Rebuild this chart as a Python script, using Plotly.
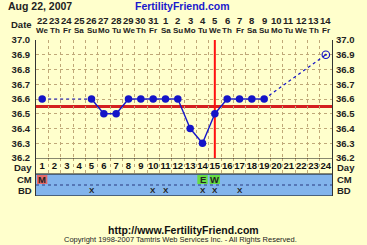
import plotly.graph_objects as go

# ---------------- data ----------------
days = list(range(1, 25))
dates = ["22", "23", "24", "25", "26", "27", "28", "29", "30", "31", "1", "2",
         "3", "4", "5", "6", "7", "8", "9", "10", "11", "12", "13", "14"]
weekdays = ["We", "Th", "Fr", "Sa", "Su", "Mo", "Tu", "We", "Th", "Fr", "Sa", "Su",
            "Mo", "Tu", "We", "Th", "Fr", "Sa", "Su", "Mo", "Tu", "We", "Th", "Fr"]
temps = [36.6, None, None, None, 36.6, 36.5, 36.5, 36.6, 36.6, 36.6, 36.6, 36.6,
         36.4, 36.3, 36.5, 36.6, 36.6, 36.6, 36.6, None, None, None, None, None]
predicted_day = [24]
predicted_temp = [36.9]
coverline = 36.55
ovulation_day = 15
cm_days = [1, 14, 15]
cm_labels = ["M", "E", "W"]
cm_colors = ["#E46A6A", "#66DD44", "#66DD44"]
bd_days = [5, 10, 11, 14, 15, 17]
y_ticks = [36.2, 36.3, 36.4, 36.5, 36.6, 36.7, 36.8, 36.9, 37.0]

# ---------------- layout helpers ----------------
W, H = 367, 245
L, R, T, B = 33, 30, 40, 49
plot_h = H - T - B
plot_w = W - L - R
temp_bottom_px = 158
split = (H - B - temp_bottom_px) / plot_h


def py(px):
    return (H - B - px) / plot_h


def pxp(px):
    return (px - L) / plot_w


BG = "#FFFFCC"
GRID = "#BFA878"
BLUE = "#1414C8"
FONT = "Liberation Sans"

fig = go.Figure()

# line segments: solid between consecutive days, dashed across gaps
rec = [(d, t) for d, t in zip(days, temps) if t is not None]
sx, sy, dx, dy = [], [], [], []
for (d0, t0), (d1, t1) in zip(rec[:-1], rec[1:]):
    if d1 - d0 == 1:
        sx += [d0, d1, None]; sy += [t0, t1, None]
    else:
        dx += [d0, d1, None]; dy += [t0, t1, None]
last_d, last_t = rec[-1]
dx += [last_d, predicted_day[0], None]; dy += [last_t, predicted_temp[0], None]

fig.add_trace(go.Scatter(x=dx, y=dy, mode="lines", line=dict(color=BLUE, width=1.2, dash="3px,3px"),
                         hoverinfo="skip", showlegend=False))
fig.add_trace(go.Scatter(x=sx, y=sy, mode="lines", line=dict(color=BLUE, width=1.4),
                         hoverinfo="skip", showlegend=False))
fig.add_trace(go.Scatter(x=[d for d, _ in rec], y=[t for _, t in rec], mode="markers",
                         marker=dict(color=BLUE, size=7.5), showlegend=False))
fig.add_trace(go.Scatter(x=predicted_day, y=predicted_temp, mode="markers",
                         marker=dict(color=BLUE, size=7.5, symbol="circle-open-dot", line=dict(width=1.2)),
                         showlegend=False))
# invisible trace for right axis
fig.add_trace(go.Scatter(x=[1], y=[36.2], yaxis="y3", mode="markers", marker=dict(opacity=0),
                         hoverinfo="skip", showlegend=False))

# Day numbers row (y2 in pixel offsets below temp area)
fig.add_trace(go.Scatter(x=days, y=[9] * len(days), yaxis="y2", mode="text",
                         text=[str(d) for d in days],
                         textfont=dict(family=FONT, size=9.5, color="#111111", weight="bold"),
                         hoverinfo="skip", showlegend=False))

shapes = []
# blue rows
shapes.append(dict(type="rect", xref="x", yref="y2", x0=0.5, x1=24.5, y0=16, y1=38,
                   fillcolor="#82B4EC", line=dict(width=0), layer="above"))
for d, c in zip(cm_days, cm_colors):
    shapes.append(dict(type="rect", xref="x", yref="y2", x0=d - 0.42, x1=d + 0.42, y0=17, y1=26,
                       fillcolor=c, line=dict(width=0), layer="above"))
# borders in table
for yy in [0, 16, 38]:
    shapes.append(dict(type="line", xref="x", yref="y2", x0=0.5, x1=24.5, y0=yy, y1=yy,
                       line=dict(color="#111111", width=1.2), layer="above"))
shapes.append(dict(type="line", xref="x", yref="y2", x0=0.5, x1=24.5, y0=27, y1=27,
                   line=dict(color="#2A3A80", width=1, dash="dot"), layer="above"))
# coverline
shapes.append(dict(type="line", xref="x", yref="y", x0=0.5, x1=24.5, y0=coverline, y1=coverline,
                   line=dict(color="#D42020", width=3), layer="below"))
# ovulation line
shapes.append(dict(type="line", xref="x", yref="y", x0=ovulation_day, x1=ovulation_day, y0=36.2, y1=37.0,
                   line=dict(color="#FF1010", width=2), layer="below"))

annotations = []
ann_font = dict(family=FONT, size=9.5, color="#222222", weight="bold")
mid_font = dict(family=FONT, size=9.5, color="#222222", weight="bold")
small_font = dict(family=FONT, size=8, color="#222222", weight="bold")
for d, dt, wd in zip(days, dates, weekdays):
    annotations.append(dict(x=d, y=py(20), xref="x", yref="paper", text=dt, showarrow=False,
                            font=mid_font, xanchor="center", yanchor="middle"))
    annotations.append(dict(x=d, y=py(30), xref="x", yref="paper", text=wd, showarrow=False,
                            font=small_font, xanchor="center", yanchor="middle"))
annotations.append(dict(x=pxp(31), y=py(25), xref="paper", yref="paper", text="Date", showarrow=False,
                        font=ann_font, xanchor="right", yanchor="middle"))
annotations.append(dict(x=pxp(2), y=py(6), xref="paper", yref="paper", text="Aug 22, 2007", showarrow=False,
                        font=dict(family=FONT, size=10.5, color="#222222", weight="bold"),
                        xanchor="left", yanchor="middle"))
annotations.append(dict(x=pxp(183), y=py(6), xref="paper", yref="paper",
                        text="FertilityFriend.com", showarrow=False,
                        font=dict(family=FONT, size=10.5, color="#1a1acc", weight="bold"),
                        xanchor="center", yanchor="middle"))
for d, lbl in zip(cm_days, cm_labels):
    annotations.append(dict(x=d, y=21.5, xref="x", yref="y2", text=lbl, showarrow=False,
                            font=mid_font, xanchor="center", yanchor="middle"))
for d in bd_days:
    annotations.append(dict(x=d, y=32.5, xref="x", yref="y2", text="X", showarrow=False,
                            font=small_font, xanchor="center", yanchor="middle"))
for lbl, yy in [("Day", 9.5), ("CM", 21.5), ("BD", 32.5)]:
    annotations.append(dict(x=0.5, y=yy, xref="x", yref="y2", text=lbl, showarrow=False,
                            font=ann_font, xanchor="right", yanchor="middle", xshift=-2))
    annotations.append(dict(x=24.5, y=yy, xref="x", yref="y2", text=lbl, showarrow=False,
                            font=ann_font, xanchor="left", yanchor="middle", xshift=3))
annotations.append(dict(x=pxp(184), y=py(230), xref="paper", yref="paper",
                        text="http://www.FertilityFriend.com", showarrow=False,
                        font=dict(family=FONT, size=10.5, color="#111111", weight="bold"),
                        xanchor="center", yanchor="middle"))
annotations.append(dict(x=pxp(181), y=py(240), xref="paper", yref="paper",
                        text="Copyright 1998-2007 Tamtris Web Services Inc. - All Rights Reserved.",
                        showarrow=False,
                        font=dict(family=FONT, size=7.5, color="#222222"),
                        xanchor="center", yanchor="middle"))

tick_font = dict(family=FONT, size=9.5, color="#222222", weight="bold")
fig.update_layout(
    width=W, height=H,
    margin=dict(l=L, r=R, t=T, b=B, pad=0),
    paper_bgcolor=BG, plot_bgcolor=BG,
    showlegend=False,
    xaxis=dict(range=[0.5, 24.5], tickvals=[d + 0.5 for d in days[:-1]], showticklabels=False,
               ticks="", showgrid=True, gridcolor=GRID, griddash="dot", gridwidth=1,
               zeroline=False, showline=False, fixedrange=True),
    yaxis=dict(domain=[split, 1], range=[36.2, 37.0], tickvals=y_ticks,
               ticktext=[f"{v:.1f}" for v in y_ticks], tickfont=tick_font, ticks="",
               showgrid=True, gridcolor=GRID, griddash="dot", zeroline=False,
               showline=True, linecolor="#333333", linewidth=1, mirror=True,
               ticklabelstandoff=3),
    yaxis2=dict(domain=[0, split], range=[38, 0], showticklabels=False, ticks="",
                showgrid=False, zeroline=False, showline=True, linecolor="#333333",
                linewidth=1, mirror=True),
    yaxis3=dict(overlaying="y", side="right", anchor="x", range=[36.2, 37.0], tickvals=y_ticks,
                ticktext=[f"{v:.1f}" for v in y_ticks], tickfont=tick_font, ticks="",
                showgrid=False, zeroline=False, showline=False, ticklabelstandoff=3),
    shapes=shapes,
    annotations=annotations,
)

fig.write_html("out.html")
